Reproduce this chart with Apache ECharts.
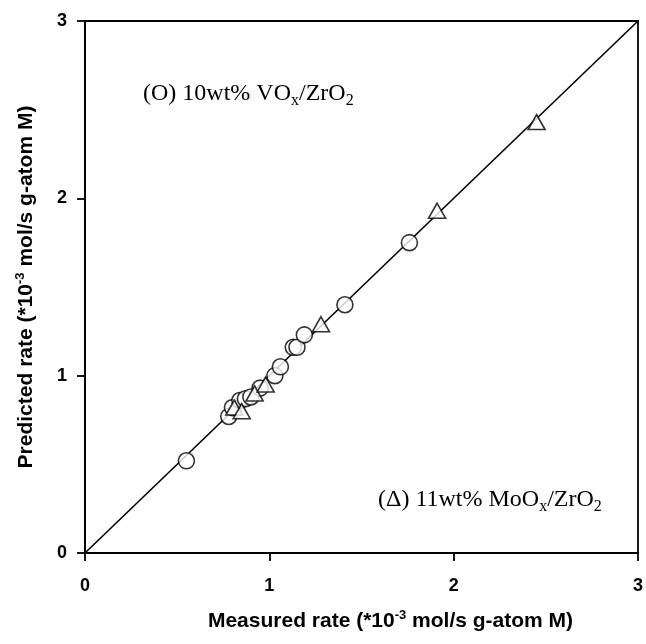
<!DOCTYPE html>
<html>
<head>
<meta charset="utf-8">
<script src="https://cdn.jsdelivr.net/npm/echarts@6/dist/echarts.min.js"></script>
<style>html,body{margin:0;padding:0;background:#fff}#c{width:646px;height:644px}</style>
</head>
<body>
<div id="c"></div>
<script>
// VOx/ZrO2 (circles): [measured, predicted]
const voxPoints = [
  [0.55, 0.52], [0.78, 0.77], [0.80, 0.82], [0.84, 0.86], [0.87, 0.87],
  [0.90, 0.88], [0.95, 0.93], [1.03, 1.00], [1.06, 1.05], [1.13, 1.16],
  [1.15, 1.16], [1.19, 1.23], [1.41, 1.40], [1.76, 1.75]
];
// MoOx/ZrO2 (triangles): [measured, predicted]
const moxPoints = [
  [0.81, 0.82], [0.85, 0.80], [0.92, 0.90], [0.98, 0.95],
  [1.28, 1.29], [1.91, 1.93], [2.45, 2.43]
];
const parityLine = [[0, 0], [3, 3]];
const axisMin = 0, axisMax = 3, axisStep = 1;

const chart = echarts.init(document.getElementById('c'));
const sans = "'Liberation Sans', Arial, sans-serif";
const serif = "'Liberation Serif', 'Times New Roman', serif";
const supStyle = { fontSize: 13, fontWeight: 'bold', fontFamily: sans, padding: [0, 0, 12, 0] };
chart.setOption({
  animation: false,
  backgroundColor: '#fff',
  grid: { left: 85, right: 7, top: 21, bottom: 91, show: true, borderColor: '#000', borderWidth: 1.8, backgroundColor: 'transparent' },
  xAxis: {
    type: 'value', min: axisMin, max: axisMax, interval: axisStep,
    axisLine: { show: true, lineStyle: { color: '#000', width: 1.8 } },
    axisTick: { show: true, inside: false, length: 8, lineStyle: { color: '#000', width: 1.8 } },
    splitLine: { show: false },
    axisLabel: { color: '#000', fontFamily: sans, fontSize: 18, fontWeight: 'bold', margin: 24 },
    name: 'Measured rate (*10{sup|-3} mol/s g-atom M)',
    nameLocation: 'middle', nameGap: 56,
    nameTextStyle: { color: '#000', fontFamily: sans, fontSize: 21, fontWeight: 'bold',
      padding: [0, 0, 0, 58], rich: { sup: supStyle } }
  },
  yAxis: {
    type: 'value', min: axisMin, max: axisMax, interval: axisStep,
    axisLine: { show: true, lineStyle: { color: '#000', width: 1.8 } },
    axisTick: { show: true, inside: false, length: 8, lineStyle: { color: '#000', width: 1.8 } },
    splitLine: { show: false },
    axisLabel: { color: '#000', fontFamily: sans, fontSize: 18, fontWeight: 'bold', margin: 18 },
    name: 'Predicted rate (*10{sup|-3} mol/s g-atom M)',
    nameLocation: 'middle', nameGap: 46,
    nameTextStyle: { color: '#000', fontFamily: sans, fontSize: 21, fontWeight: 'bold',
      rich: { sup: supStyle } }
  },
  series: [
    { type: 'line', data: parityLine, symbol: 'none', lineStyle: { color: '#000', width: 1.6 }, z: 1 },
    { type: 'scatter', data: voxPoints, symbol: 'circle', symbolSize: 16,
      itemStyle: { color: '#fff', borderColor: '#000', borderWidth: 1.6 }, z: 3 },
    { type: 'scatter', data: moxPoints, symbol: 'triangle', symbolSize: [17, 15],
      itemStyle: { color: '#fff', borderColor: '#000', borderWidth: 1.6 }, z: 4 }
  ],
  graphic: [
    { type: 'text', left: 143, top: 82, z: 10,
      style: { text: '(O) 10wt% VO{sub|x}/ZrO{sub|2}', fill: '#000', font: "24px 'Liberation Serif', serif",
        rich: { sub: { fontSize: 16, fontFamily: serif, padding: [14, 0, 0, 0] } } } },
    { type: 'text', left: 378, top: 488, z: 10,
      style: { text: '(\u0394) 11wt% MoO{sub|x}/ZrO{sub|2}', fill: '#000', font: "24px 'Liberation Serif', serif",
        rich: { sub: { fontSize: 16, fontFamily: serif, padding: [14, 0, 0, 0] } } } }
  ]
});
</script>
</body>
</html>
